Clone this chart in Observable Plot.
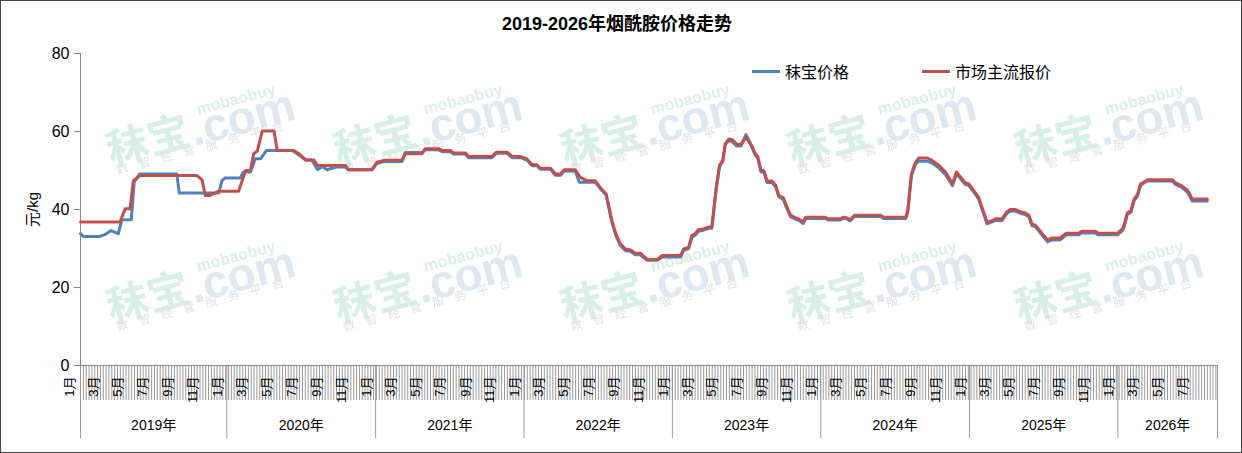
<!DOCTYPE html>
<html>
<head>
<meta charset="utf-8">
<script src="https://cdn.jsdelivr.net/npm/d3@7"></script>
<script src="https://cdn.jsdelivr.net/npm/@observablehq/plot@0.6"></script>
<style>
  body { margin: 0; background: #fff; }
  #wrap { position: relative; width: 1242px; height: 453px; overflow: hidden; background: #fff;
          font-family: "Liberation Sans", Arial, "Noto Sans CJK SC", sans-serif; }
  #border { position: absolute; left: 0; top: 0; width: 1242px; height: 453px; box-sizing: border-box;
            border: 1.5px solid #444; pointer-events: none; }
  #title { position: absolute; left: 0; top: 9px; width: 1234px; text-align: center;
           font-weight: bold; font-size: 18px; color: #000; }
  .lg { position: absolute; top: 59px; font-size: 16px; color: #000; display: flex; align-items: center; }
  .lg span.sw { display: inline-block; width: 28px; height: 3px; margin-right: 5px; }
  #plot { position: absolute; left: 0; top: 0; }
</style>
</head>
<body>
<div id="wrap">
  <div id="plot"></div>
  <div id="title">2019-2026年烟酰胺价格走势</div>
  <div class="lg" style="left:752px"><span class="sw" style="background:#4F81BD"></span>秣宝价格</div>
  <div class="lg" style="left:922px"><span class="sw" style="background:#C0504D"></span>市场主流报价</div>
  <div id="border"></div>
</div>
<script>
// ---------- data ----------
const seriesNames = ["秣宝价格", "市场主流报价"];
const seriesColors = ["#4F81BD", "#C0504D"];

const blueDates = [
"2019-01-06","2019-01-13","2019-02-23","2019-03-08","2019-03-22","2019-04-09","2019-04-18","2019-05-11","2019-05-18","2019-05-31",
"2019-08-31","2019-09-06","2019-12-12","2019-12-20","2019-12-28","2020-02-03","2020-02-11","2020-02-28","2020-03-11","2020-03-24",
"2020-04-07","2020-06-10","2020-06-22","2020-07-13","2020-07-28","2020-08-11","2020-08-23","2020-09-04","2020-09-25","2020-10-18",
"2020-10-26","2020-12-23",
"2021-01-04","2021-01-21","2021-03-07","2021-03-15","2021-04-25","2021-05-03","2021-06-05","2021-06-14","2021-07-04","2021-07-12",
"2021-08-10","2021-08-18","2021-10-14","2021-10-25","2021-11-20","2021-12-03","2021-12-23","2022-01-08","2022-01-21","2022-02-02",
"2022-02-10","2022-03-07","2022-03-19","2022-04-01","2022-04-10","2022-05-07","2022-05-17","2022-06-25","2022-07-07","2022-07-22",
"2022-08-05","2022-08-15","2022-08-26","2022-09-07","2022-09-19","2022-10-02","2022-10-14","2022-10-31","2022-11-25","2022-12-07",
"2023-01-21","2023-01-29","2023-02-10","2023-02-18","2023-02-26","2023-03-06","2023-03-18","2023-03-31","2023-04-08","2023-04-19",
"2023-04-27","2023-05-05","2023-05-11","2023-05-20","2023-05-28","2023-06-08","2023-06-19","2023-06-25","2023-07-01","2023-07-12",
"2023-07-17","2023-07-24","2023-07-30","2023-08-07","2023-08-14","2023-08-22","2023-09-03","2023-09-12","2023-09-20","2023-10-01",
"2023-10-09","2023-10-19","2023-10-31","2023-11-08","2023-11-19","2023-11-25","2024-01-12","2024-01-20","2024-02-18","2024-02-25",
"2024-03-02","2024-03-14","2024-03-24","2024-05-27","2024-06-04","2024-07-28","2024-08-02","2024-08-11","2024-08-21","2024-08-29",
"2024-09-19","2024-10-01","2024-10-18","2024-11-03","2024-11-20","2024-11-30","2024-12-10","2024-12-22","2024-12-30","2025-01-11",
"2025-01-23","2025-02-13","2025-02-25","2025-03-06","2025-03-22","2025-04-02","2025-04-11","2025-04-24","2025-05-04","2025-05-18",
"2025-05-27","2025-06-04","2025-06-12","2025-06-29","2025-07-12","2025-07-23","2025-08-12","2025-08-27","2025-09-26","2025-10-04",
"2025-11-06","2025-11-14","2025-12-31","2026-01-12","2026-01-16","2026-01-24","2026-02-02","2026-02-10","2026-02-18","2026-02-26",
"2026-03-06","2026-03-14","2026-05-15","2026-05-23","2026-06-05","2026-06-21","2026-07-03","2026-08-09"
];
const blueValues = [
33.8,33.1,33.1,33.6,34.6,33.8,37.4,37.4,47,49.1,
49.1,44.2,44.2,47.4,48.1,48.1,49.6,49.6,53,53,
55.1,55.1,54.3,52.7,52.7,50.2,51,50.2,50.9,50.9,
50.2,50.2,
51.8,52.3,52.3,54.6,54.6,55.3,55.3,54.8,54.8,54.2,
54.2,53.3,53.3,54.4,54.4,53.3,53.3,52.7,51.2,51.2,
50.3,50.3,48.8,48.8,49.9,49.9,47,47,45.4,43.7,
36.9,33.3,30.8,29.5,29.3,28.4,28.4,27,27,27.8,
27.8,29.5,30,32.9,33.4,34.4,34.7,35.2,35.2,45.3,
51,52.3,56.5,57.8,57.4,56.3,56.3,57.8,59.2,57,
55.6,53.9,53.2,49.6,49.6,46.9,46.9,45.8,43.2,42.6,
40.4,38.1,37.5,37.2,36.4,37.7,37.7,37.3,37.3,37.7,
37.7,37.1,38.2,38.2,37.7,37.7,39.3,48.6,51.6,52.4,
52.4,51.9,50.6,48.9,46.1,49.2,47.9,46.4,46.2,44.5,
42.8,36.3,36.8,37.2,37.2,38.9,39.6,39.6,39.1,38.7,
38.1,35.8,35.6,33.4,31.7,32.2,32.2,33.5,33.5,34,
34,33.5,33.5,34.6,35.5,38.7,39.3,42.3,43.4,46.2,
46.8,47.3,47.3,46.4,45.8,44.5,42.2,42.2
];

const redDates = [
"2019-01-06","2019-04-13","2019-04-26","2019-05-08","2019-05-16","2019-06-02","2019-10-20","2019-11-01","2019-11-09","2019-11-21",
"2019-12-12","2020-01-30","2020-02-16","2020-02-28","2020-03-07","2020-03-16","2020-03-28","2020-04-26","2020-05-04","2020-06-14",
"2020-06-26","2020-07-13","2020-08-02","2020-08-11","2020-10-18","2020-10-26","2020-12-23",
"2021-01-04","2021-01-21","2021-03-07","2021-03-15","2021-04-25","2021-05-03","2021-06-05","2021-06-14","2021-07-04","2021-07-12",
"2021-08-10","2021-08-18","2021-10-14","2021-10-25","2021-11-20","2021-12-03","2021-12-23","2022-01-08","2022-01-21","2022-02-02",
"2022-02-10","2022-03-07","2022-03-19","2022-04-01","2022-04-10","2022-05-07","2022-05-19","2022-06-04","2022-06-25","2022-07-07",
"2022-07-22","2022-08-05","2022-08-15","2022-08-26","2022-09-07","2022-09-19","2022-10-02","2022-10-14","2022-10-31","2022-11-25",
"2022-12-07","2023-01-21","2023-01-29","2023-02-10","2023-02-18","2023-02-26","2023-03-06","2023-03-18","2023-03-31","2023-04-08",
"2023-04-19","2023-04-27","2023-05-05","2023-05-11","2023-05-20","2023-05-28","2023-06-08","2023-06-19","2023-06-25","2023-07-01",
"2023-07-12","2023-07-17","2023-07-24","2023-07-30","2023-08-07","2023-08-14","2023-08-22","2023-09-03","2023-09-12","2023-09-20",
"2023-10-01","2023-10-09","2023-10-19","2023-10-31","2023-11-08","2023-11-19","2023-11-25","2024-01-12","2024-01-20","2024-02-18",
"2024-02-25","2024-03-02","2024-03-14","2024-03-24","2024-05-27","2024-06-04","2024-07-28","2024-08-02","2024-08-11","2024-08-21",
"2024-08-29","2024-09-19","2024-10-01","2024-10-18","2024-11-03","2024-11-20","2024-11-30","2024-12-10","2024-12-22","2024-12-30",
"2025-01-11","2025-01-23","2025-02-13","2025-02-25","2025-03-06","2025-03-22","2025-04-02","2025-04-11","2025-04-24","2025-05-04",
"2025-05-18","2025-05-27","2025-06-04","2025-06-12","2025-06-29","2025-07-12","2025-07-23","2025-08-12","2025-08-27","2025-09-26",
"2025-10-04","2025-11-06","2025-11-14","2025-12-31","2026-01-12","2026-01-16","2026-01-24","2026-02-02","2026-02-10","2026-02-18",
"2026-02-26","2026-03-06","2026-03-14","2026-05-15","2026-05-23","2026-06-05","2026-06-21","2026-07-03","2026-08-09"
];
const redValues = [
36.8,36.8,40.2,40.2,47.4,48.7,48.7,47.6,43.6,43.6,
44.7,44.7,50,50,54.3,55,60.1,60.1,55.1,55.1,
54.3,52.7,52.7,51.3,51.3,50.2,50.2,
52.1,52.6,52.6,54.3,54.3,55.6,55.6,55.1,55.1,54.5,
54.5,53.6,53.6,54.7,54.7,53.6,53.6,53,51.5,51.5,
50.6,50.6,49.1,49.1,50.2,50.2,48.3,47.4,47.4,45.7,
44,37.2,33.8,31.2,29.9,29.7,28.8,28.8,27.2,27.2,
28.2,28.2,29.9,30.3,33.3,33.8,34.8,35,35.5,35.5,
45.7,51.3,52.6,56.8,58.1,57.9,56.8,56.7,57.6,58.5,
56.8,56,54.3,53.6,50,50,47.3,47.3,46.2,43.6,
43,40.8,38.5,37.9,37.6,36.8,38,38,37.6,37.6,
38,38,37.4,38.5,38.5,38,38,39.7,49.1,52.1,
53.2,53.2,52.6,51.3,49.6,46.6,49.6,48.3,46.8,46.6,
44.9,43.2,36.8,37.1,37.6,37.6,39.3,40,40,39.5,
39.1,38.5,36.2,36,33.8,32.2,32.7,32.7,33.9,33.9,
34.4,34.4,33.9,33.9,35,35.9,39.1,39.7,42.7,43.8,
46.6,47,47.6,47.6,46.8,46.2,45,42.7,42.7
];

const yTicks = [0, 20, 40, 60, 80];
const yLabel = "元/kg";
const years = [2019, 2020, 2021, 2022, 2023, 2024, 2025, 2026];
const labelMonths = [1, 3, 5, 7, 9, 11];
const xDomain = ["2019-01-06", "2026-09-03"];

// ---------- derived tables ----------
const parse = d3.utcParse("%Y-%m-%d");
const xStart = parse(xDomain[0]), xEnd = parse(xDomain[1]);
const blue = blueDates.map((d, i) => ({date: parse(d), value: blueValues[i]}));
const red = redDates.map((d, i) => ({date: parse(d), value: redValues[i]}));
const lastData = d3.max(red, d => d.date);

const weekTicks = d3.utcWeek.range(xStart, d3.utcDay.offset(xEnd, 1));
const monthTicks = [];
for (const y of years) for (const m of labelMonths) {
  const d = new Date(Date.UTC(y, m - 1, 1));
  if (d <= lastData) monthTicks.push(d);
}
const yearLines = [xStart, ...years.slice(1).map(y => new Date(Date.UTC(y, 0, 1))), xEnd];
const yearMids = years.map(y => {
  const a = Math.max(+xStart, Date.UTC(y, 0, 1));
  const b = Math.min(+xEnd, Date.UTC(y + 1, 0, 1));
  return {date: new Date((a + b) / 2), label: y + "年"};
});

const font = '"Liberation Sans", Arial, "Noto Sans CJK SC", sans-serif';

const plot = Plot.plot({
  width: 1242,
  height: 453,
  marginLeft: 80,
  marginRight: 25,
  marginTop: 53,
  marginBottom: 88,
  style: {fontFamily: font, color: "#000", background: "transparent", overflow: "visible"},
  x: {type: "utc", domain: [xStart, xEnd], axis: null},
  y: {domain: [0, 80], axis: null},
  marks: [
    // y axis
    Plot.axisY({ticks: yTicks, tickSize: 6, tickPadding: 5, fontSize: 16, stroke: "#888", label: null, tickFormat: d => d}),
    Plot.ruleX([xStart], {stroke: "#888"}),
    Plot.text([yLabel], {frameAnchor: "left", dx: -47, rotate: -90, textAnchor: "middle", lineAnchor: "middle",
      fontSize: 15, text: d => d, fill: "#000"}),
    // category axis
    Plot.axisX({ticks: weekTicks, tickSize: 35, tickFormat: () => "", stroke: "#9a9a9a", label: null}),
    Plot.axisX({ticks: yearLines, tickSize: 73, tickFormat: () => "", stroke: "#9a9a9a", label: null}),
    Plot.ruleY([0], {stroke: "#888"}),
    Plot.text(monthTicks, {x: d => d, frameAnchor: "bottom", dy: 11, dx: -9, rotate: -90,
      textAnchor: "end", lineAnchor: "middle",
      text: d => (d.getUTCMonth() + 1) + "月", fontSize: 13, fill: "#000"}),
    Plot.text(yearMids, {x: "date", frameAnchor: "bottom", dy: 60, lineAnchor: "middle", textAnchor: "middle",
      text: "label", fontSize: 14, fill: "#000"}),
    // series
    Plot.line(blue, {x: "date", y: "value", stroke: seriesColors[0], strokeWidth: 3, strokeLinejoin: "round"}),
    Plot.line(red, {x: "date", y: "value", stroke: seriesColors[1], strokeWidth: 3, strokeLinejoin: "round"})
  ]
});

document.getElementById("plot").appendChild(plot);

// ---------- watermark (decoration, under the marks) ----------
const svg = d3.select(plot);
const xr = plot.scale("x").range, yr = plot.scale("y").range;
const defs = svg.insert("defs", ":first-child");
const pat = defs.append("pattern").attr("id", "wm").attr("patternUnits", "userSpaceOnUse")
  .attr("x", 95).attr("y", 85).attr("width", 227).attr("height", 157);
const wmFont = '"Noto Sans CJK SC", sans-serif';
pat.append("text").attr("transform", "translate(52,52) rotate(-15)")
  .attr("text-anchor", "middle").attr("dominant-baseline", "central")
  .attr("font-family", wmFont).attr("font-weight", "bold").attr("font-size", 42)
  .attr("fill", "#d8eee8").text("秣宝");
pat.append("text").attr("transform", "translate(147,32) rotate(-15)")
  .attr("text-anchor", "middle").attr("dominant-baseline", "central")
  .attr("font-family", '"Liberation Sans", Arial, sans-serif').attr("font-weight", "bold").attr("font-size", 46)
  .attr("fill", "#dfe8f0").text(".com");
pat.append("text").attr("transform", "translate(141,14) rotate(-15)")
  .attr("text-anchor", "middle").attr("dominant-baseline", "central")
  .attr("font-family", '"Liberation Sans", Arial, sans-serif').attr("font-weight", "bold").attr("font-size", 16)
  .attr("fill", "#dcefe9").text("mobaobuy");
pat.append("text").attr("transform", "translate(110,60) rotate(-15)")
  .attr("text-anchor", "middle").attr("dominant-baseline", "central")
  .attr("font-family", wmFont).attr("font-size", 12).attr("letter-spacing", 11)
  .attr("fill", "#e2e2e2").text("数智经营服务平台");
svg.insert("rect", "defs + *")
  .attr("x", Math.min(...xr)).attr("y", Math.min(...yr))
  .attr("width", Math.abs(xr[1] - xr[0])).attr("height", Math.abs(yr[1] - yr[0]))
  .attr("fill", "url(#wm)");
</script>
</body>
</html>
